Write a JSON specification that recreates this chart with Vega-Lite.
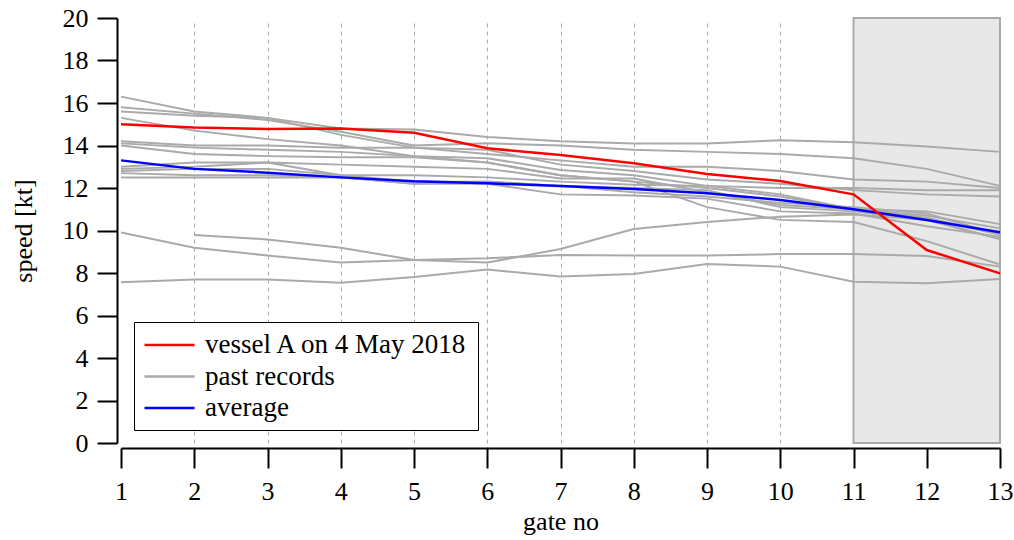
{
  "$schema": "https://vega.github.io/schema/vega-lite/v6.json",
  "width": 879,
  "height": 425,
  "autosize": {"type": "none"},
  "padding": {"left": 121, "top": 18, "right": 14, "bottom": 97},
  "background": "white",
  "config": {
    "view": {"stroke": null},
    "font": "Liberation Serif",
    "axisX": {
      "offset": 5, "tickSize": 20, "tickWidth": 2, "tickColor": "black",
      "domainWidth": 2, "domainColor": "black",
      "labelFont": "Liberation Serif", "labelFontSize": 26, "labelColor": "black", "labelPadding": 10, "labelFlush": false,
      "titleFont": "Liberation Serif", "titleFontSize": 26, "titleFontWeight": "normal", "titleColor": "black", "titlePadding": 4,
      "grid": true, "gridColor": "#aaaaaa", "gridDash": [4, 4], "gridWidth": 1
    },
    "axisY": {
      "offset": 4, "tickSize": 20, "tickWidth": 2, "tickColor": "black",
      "domainWidth": 2, "domainColor": "black",
      "labelFont": "Liberation Serif", "labelFontSize": 26, "labelColor": "black", "labelPadding": 9,
      "titleFont": "Liberation Serif", "titleFontSize": 26, "titleFontWeight": "normal", "titleColor": "black", "titlePadding": 26,
      "grid": false
    },
    "legend": {
      "orient": "none",
      "legendX": 13,
      "legendY": 304,
      "symbolType": "M-1,0H3",
      "symbolSize": 625,
      "symbolStrokeWidth": 2.5,
      "labelFont": "Liberation Serif",
      "labelFontSize": 27,
      "labelColor": "black",
      "labelOffset": 34,
      "labelLimit": 500,
      "strokeColor": "black",
      "fillColor": "white",
      "padding": 9,
      "rowPadding": 4.5
    }
  },
  "datasets": {
    "speeds": [
      {"g":1,"v":15.0,"r":"vessel","s":"vessel A on 4 May 2018"},{"g":2,"v":14.85,"r":"vessel","s":"vessel A on 4 May 2018"},{"g":3,"v":14.78,"r":"vessel","s":"vessel A on 4 May 2018"},{"g":4,"v":14.8,"r":"vessel","s":"vessel A on 4 May 2018"},{"g":5,"v":14.6,"r":"vessel","s":"vessel A on 4 May 2018"},{"g":6,"v":13.87,"r":"vessel","s":"vessel A on 4 May 2018"},{"g":7,"v":13.55,"r":"vessel","s":"vessel A on 4 May 2018"},{"g":8,"v":13.16,"r":"vessel","s":"vessel A on 4 May 2018"},{"g":9,"v":12.66,"r":"vessel","s":"vessel A on 4 May 2018"},{"g":10,"v":12.33,"r":"vessel","s":"vessel A on 4 May 2018"},{"g":11,"v":11.7,"r":"vessel","s":"vessel A on 4 May 2018"},{"g":12,"v":9.08,"r":"vessel","s":"vessel A on 4 May 2018"},{"g":13,"v":7.98,"r":"vessel","s":"vessel A on 4 May 2018"},
      {"g":1,"v":13.3,"r":"avg","s":"average"},{"g":2,"v":12.9,"r":"avg","s":"average"},{"g":3,"v":12.72,"r":"avg","s":"average"},{"g":4,"v":12.5,"r":"avg","s":"average"},{"g":5,"v":12.32,"r":"avg","s":"average"},{"g":6,"v":12.22,"r":"avg","s":"average"},{"g":7,"v":12.09,"r":"avg","s":"average"},{"g":8,"v":11.95,"r":"avg","s":"average"},{"g":9,"v":11.75,"r":"avg","s":"average"},{"g":10,"v":11.44,"r":"avg","s":"average"},{"g":11,"v":11.0,"r":"avg","s":"average"},{"g":12,"v":10.49,"r":"avg","s":"average"},{"g":13,"v":9.92,"r":"avg","s":"average"},
      {"g":1,"v":16.3,"r":"A","s":"past records"},{"g":2,"v":15.6,"r":"A","s":"past records"},{"g":3,"v":15.3,"r":"A","s":"past records"},{"g":4,"v":14.8,"r":"A","s":"past records"},{"g":5,"v":14.75,"r":"A","s":"past records"},{"g":6,"v":14.4,"r":"A","s":"past records"},{"g":7,"v":14.2,"r":"A","s":"past records"},{"g":8,"v":14.1,"r":"A","s":"past records"},{"g":9,"v":14.1,"r":"A","s":"past records"},{"g":10,"v":14.25,"r":"A","s":"past records"},{"g":11,"v":14.15,"r":"A","s":"past records"},{"g":12,"v":13.95,"r":"A","s":"past records"},{"g":13,"v":13.7,"r":"A","s":"past records"},
      {"g":1,"v":15.8,"r":"B","s":"past records"},{"g":2,"v":15.5,"r":"B","s":"past records"},{"g":3,"v":15.2,"r":"B","s":"past records"},{"g":4,"v":14.65,"r":"B","s":"past records"},{"g":5,"v":14.0,"r":"B","s":"past records"},{"g":6,"v":14.1,"r":"B","s":"past records"},{"g":7,"v":14.0,"r":"B","s":"past records"},{"g":8,"v":13.8,"r":"B","s":"past records"},{"g":9,"v":13.7,"r":"B","s":"past records"},{"g":10,"v":13.6,"r":"B","s":"past records"},{"g":11,"v":13.4,"r":"B","s":"past records"},{"g":12,"v":12.9,"r":"B","s":"past records"},{"g":13,"v":12.1,"r":"B","s":"past records"},
      {"g":1,"v":15.6,"r":"C","s":"past records"},{"g":2,"v":15.4,"r":"C","s":"past records"},{"g":3,"v":15.3,"r":"C","s":"past records"},{"g":4,"v":14.5,"r":"C","s":"past records"},{"g":5,"v":13.9,"r":"C","s":"past records"},{"g":6,"v":13.6,"r":"C","s":"past records"},{"g":7,"v":13.3,"r":"C","s":"past records"},{"g":8,"v":13.0,"r":"C","s":"past records"},{"g":9,"v":13.0,"r":"C","s":"past records"},{"g":10,"v":12.8,"r":"C","s":"past records"},{"g":11,"v":12.4,"r":"C","s":"past records"},{"g":12,"v":12.3,"r":"C","s":"past records"},{"g":13,"v":12.0,"r":"C","s":"past records"},
      {"g":1,"v":15.3,"r":"D","s":"past records"},{"g":2,"v":14.7,"r":"D","s":"past records"},{"g":3,"v":14.3,"r":"D","s":"past records"},{"g":4,"v":14.0,"r":"D","s":"past records"},{"g":5,"v":13.5,"r":"D","s":"past records"},{"g":6,"v":13.2,"r":"D","s":"past records"},{"g":7,"v":12.6,"r":"D","s":"past records"},{"g":8,"v":12.3,"r":"D","s":"past records"},{"g":9,"v":11.1,"r":"D","s":"past records"},{"g":10,"v":10.5,"r":"D","s":"past records"},{"g":11,"v":10.4,"r":"D","s":"past records"},{"g":12,"v":9.5,"r":"D","s":"past records"},{"g":13,"v":8.4,"r":"D","s":"past records"},
      {"g":1,"v":14.2,"r":"E","s":"past records"},{"g":2,"v":14.0,"r":"E","s":"past records"},{"g":3,"v":14.0,"r":"E","s":"past records"},{"g":4,"v":13.9,"r":"E","s":"past records"},{"g":5,"v":13.9,"r":"E","s":"past records"},{"g":6,"v":13.8,"r":"E","s":"past records"},{"g":7,"v":13.1,"r":"E","s":"past records"},{"g":8,"v":12.8,"r":"E","s":"past records"},{"g":9,"v":12.4,"r":"E","s":"past records"},{"g":10,"v":12.2,"r":"E","s":"past records"},{"g":11,"v":11.9,"r":"E","s":"past records"},{"g":12,"v":11.7,"r":"E","s":"past records"},{"g":13,"v":11.6,"r":"E","s":"past records"},
      {"g":1,"v":14.1,"r":"F","s":"past records"},{"g":2,"v":13.9,"r":"F","s":"past records"},{"g":3,"v":13.8,"r":"F","s":"past records"},{"g":4,"v":13.7,"r":"F","s":"past records"},{"g":5,"v":13.5,"r":"F","s":"past records"},{"g":6,"v":13.4,"r":"F","s":"past records"},{"g":7,"v":12.85,"r":"F","s":"past records"},{"g":8,"v":12.6,"r":"F","s":"past records"},{"g":9,"v":12.1,"r":"F","s":"past records"},{"g":10,"v":11.7,"r":"F","s":"past records"},{"g":11,"v":11.0,"r":"F","s":"past records"},{"g":12,"v":10.9,"r":"F","s":"past records"},{"g":13,"v":10.3,"r":"F","s":"past records"},
      {"g":1,"v":14.0,"r":"G","s":"past records"},{"g":2,"v":13.6,"r":"G","s":"past records"},{"g":3,"v":13.5,"r":"G","s":"past records"},{"g":4,"v":13.45,"r":"G","s":"past records"},{"g":5,"v":13.45,"r":"G","s":"past records"},{"g":6,"v":13.2,"r":"G","s":"past records"},{"g":7,"v":12.6,"r":"G","s":"past records"},{"g":8,"v":12.3,"r":"G","s":"past records"},{"g":9,"v":12.0,"r":"G","s":"past records"},{"g":10,"v":11.6,"r":"G","s":"past records"},{"g":11,"v":11.0,"r":"G","s":"past records"},{"g":12,"v":10.6,"r":"G","s":"past records"},{"g":13,"v":9.8,"r":"G","s":"past records"},
      {"g":1,"v":13.0,"r":"H","s":"past records"},{"g":2,"v":13.2,"r":"H","s":"past records"},{"g":3,"v":13.2,"r":"H","s":"past records"},{"g":4,"v":13.1,"r":"H","s":"past records"},{"g":5,"v":13.0,"r":"H","s":"past records"},{"g":6,"v":12.9,"r":"H","s":"past records"},{"g":7,"v":12.45,"r":"H","s":"past records"},{"g":8,"v":12.45,"r":"H","s":"past records"},{"g":9,"v":11.8,"r":"H","s":"past records"},{"g":10,"v":11.2,"r":"H","s":"past records"},{"g":11,"v":11.0,"r":"H","s":"past records"},{"g":12,"v":10.7,"r":"H","s":"past records"},{"g":13,"v":10.1,"r":"H","s":"past records"},
      {"g":1,"v":12.9,"r":"I","s":"past records"},{"g":2,"v":13.0,"r":"I","s":"past records"},{"g":3,"v":13.2,"r":"I","s":"past records"},{"g":4,"v":12.6,"r":"I","s":"past records"},{"g":5,"v":12.6,"r":"I","s":"past records"},{"g":6,"v":12.5,"r":"I","s":"past records"},{"g":7,"v":12.3,"r":"I","s":"past records"},{"g":8,"v":12.15,"r":"I","s":"past records"},{"g":9,"v":12.1,"r":"I","s":"past records"},{"g":10,"v":12.0,"r":"I","s":"past records"},{"g":11,"v":12.0,"r":"I","s":"past records"},{"g":12,"v":11.9,"r":"I","s":"past records"},{"g":13,"v":11.9,"r":"I","s":"past records"},
      {"g":1,"v":12.8,"r":"J","s":"past records"},{"g":2,"v":12.9,"r":"J","s":"past records"},{"g":3,"v":12.9,"r":"J","s":"past records"},{"g":4,"v":12.6,"r":"J","s":"past records"},{"g":5,"v":12.3,"r":"J","s":"past records"},{"g":6,"v":12.3,"r":"J","s":"past records"},{"g":7,"v":12.1,"r":"J","s":"past records"},{"g":8,"v":11.8,"r":"J","s":"past records"},{"g":9,"v":11.6,"r":"J","s":"past records"},{"g":10,"v":11.3,"r":"J","s":"past records"},{"g":11,"v":11.1,"r":"J","s":"past records"},{"g":12,"v":10.8,"r":"J","s":"past records"},{"g":13,"v":9.8,"r":"J","s":"past records"},
      {"g":1,"v":12.7,"r":"K","s":"past records"},{"g":2,"v":12.6,"r":"K","s":"past records"},{"g":3,"v":12.6,"r":"K","s":"past records"},{"g":4,"v":12.5,"r":"K","s":"past records"},{"g":5,"v":12.2,"r":"K","s":"past records"},{"g":6,"v":12.3,"r":"K","s":"past records"},{"g":7,"v":12.1,"r":"K","s":"past records"},{"g":8,"v":12.0,"r":"K","s":"past records"},{"g":9,"v":11.9,"r":"K","s":"past records"},{"g":10,"v":11.1,"r":"K","s":"past records"},{"g":11,"v":10.9,"r":"K","s":"past records"},{"g":12,"v":10.5,"r":"K","s":"past records"},{"g":13,"v":9.6,"r":"K","s":"past records"},
      {"g":1,"v":12.5,"r":"L","s":"past records"},{"g":2,"v":12.5,"r":"L","s":"past records"},{"g":3,"v":12.5,"r":"L","s":"past records"},{"g":4,"v":12.5,"r":"L","s":"past records"},{"g":5,"v":12.2,"r":"L","s":"past records"},{"g":6,"v":12.2,"r":"L","s":"past records"},{"g":7,"v":11.7,"r":"L","s":"past records"},{"g":8,"v":11.65,"r":"L","s":"past records"},{"g":9,"v":11.5,"r":"L","s":"past records"},{"g":10,"v":10.9,"r":"L","s":"past records"},{"g":11,"v":10.8,"r":"L","s":"past records"},{"g":12,"v":10.2,"r":"L","s":"past records"},{"g":13,"v":9.7,"r":"L","s":"past records"},
      {"g":1,"v":9.91,"r":"L1","s":"past records"},{"g":2,"v":9.19,"r":"L1","s":"past records"},{"g":3,"v":8.82,"r":"L1","s":"past records"},{"g":4,"v":8.49,"r":"L1","s":"past records"},{"g":5,"v":8.61,"r":"L1","s":"past records"},{"g":6,"v":8.69,"r":"L1","s":"past records"},{"g":7,"v":8.85,"r":"L1","s":"past records"},{"g":8,"v":8.82,"r":"L1","s":"past records"},{"g":9,"v":8.82,"r":"L1","s":"past records"},{"g":10,"v":8.89,"r":"L1","s":"past records"},{"g":11,"v":8.89,"r":"L1","s":"past records"},{"g":12,"v":8.8,"r":"L1","s":"past records"},{"g":13,"v":8.3,"r":"L1","s":"past records"},
      {"g":2,"v":9.79,"r":"L2","s":"past records"},{"g":3,"v":9.58,"r":"L2","s":"past records"},{"g":4,"v":9.19,"r":"L2","s":"past records"},{"g":5,"v":8.61,"r":"L2","s":"past records"},{"g":6,"v":8.49,"r":"L2","s":"past records"},{"g":7,"v":9.13,"r":"L2","s":"past records"},{"g":8,"v":10.07,"r":"L2","s":"past records"},{"g":9,"v":10.4,"r":"L2","s":"past records"},{"g":10,"v":10.65,"r":"L2","s":"past records"},{"g":11,"v":10.75,"r":"L2","s":"past records"},{"g":12,"v":10.5,"r":"L2","s":"past records"},{"g":13,"v":9.6,"r":"L2","s":"past records"},
      {"g":1,"v":7.56,"r":"L3","s":"past records"},{"g":2,"v":7.69,"r":"L3","s":"past records"},{"g":3,"v":7.69,"r":"L3","s":"past records"},{"g":4,"v":7.54,"r":"L3","s":"past records"},{"g":5,"v":7.81,"r":"L3","s":"past records"},{"g":6,"v":8.17,"r":"L3","s":"past records"},{"g":7,"v":7.83,"r":"L3","s":"past records"},{"g":8,"v":7.95,"r":"L3","s":"past records"},{"g":9,"v":8.42,"r":"L3","s":"past records"},{"g":10,"v":8.3,"r":"L3","s":"past records"},{"g":11,"v":7.59,"r":"L3","s":"past records"},{"g":12,"v":7.52,"r":"L3","s":"past records"},{"g":13,"v":7.72,"r":"L3","s":"past records"}
    ]
  },
  "layer": [
    {
      "data": {"values": [{"from": 11, "to": 13}]},
      "mark": {"type": "rect", "fill": "#e8e8e8", "stroke": "#aaaaaa", "strokeWidth": 2},
      "encoding": {
        "x": {"field": "from", "type": "quantitative",
          "scale": {"domain": [1, 13], "nice": false, "zero": false},
          "axis": {"title": "gate no", "values": [1,2,3,4,5,6,7,8,9,10,11,12,13], "format": "d",
            "gridOpacity": {"condition": {"test": "datum.value === 1", "value": 0}, "value": 1}}},
        "x2": {"field": "to"},
        "y": {"datum": 0, "type": "quantitative",
          "scale": {"domain": [0, 20], "nice": false},
          "axis": {"title": "speed [kt]", "values": [0,2,4,6,8,10,12,14,16,18,20]}},
        "y2": {"datum": 20}
      }
    },
    {
      "data": {"name": "speeds"},
      "transform": [{"filter": "datum.s === 'past records'"}],
      "mark": {"type": "line", "strokeWidth": 2},
      "encoding": {
        "x": {"field": "g", "type": "quantitative", "axis": {"title": "gate no", "values": [1,2,3,4,5,6,7,8,9,10,11,12,13], "format": "d",
            "gridOpacity": {"condition": {"test": "datum.value === 1", "value": 0}, "value": 1}}},
        "y": {"field": "v", "type": "quantitative", "axis": {"title": "speed [kt]", "values": [0,2,4,6,8,10,12,14,16,18,20]}},
        "detail": {"field": "r"},
        "color": {"field": "s", "type": "nominal", "title": null,
          "scale": {"domain": ["vessel A on 4 May 2018", "past records", "average"], "range": ["#ff0000", "#aaaaaa", "#0000ff"]}}
      }
    },
    {
      "data": {"name": "speeds"},
      "transform": [{"filter": "datum.s === 'average'"}],
      "mark": {"type": "line", "strokeWidth": 2.5},
      "encoding": {
        "x": {"field": "g", "type": "quantitative", "axis": {"title": "gate no", "values": [1,2,3,4,5,6,7,8,9,10,11,12,13], "format": "d",
            "gridOpacity": {"condition": {"test": "datum.value === 1", "value": 0}, "value": 1}}},
        "y": {"field": "v", "type": "quantitative", "axis": {"title": "speed [kt]", "values": [0,2,4,6,8,10,12,14,16,18,20]}},
        "color": {"field": "s", "type": "nominal", "title": null,
          "scale": {"domain": ["vessel A on 4 May 2018", "past records", "average"], "range": ["#ff0000", "#aaaaaa", "#0000ff"]}}
      }
    },
    {
      "data": {"name": "speeds"},
      "transform": [{"filter": "datum.s === 'vessel A on 4 May 2018'"}],
      "mark": {"type": "line", "strokeWidth": 2.5},
      "encoding": {
        "x": {"field": "g", "type": "quantitative", "axis": {"title": "gate no", "values": [1,2,3,4,5,6,7,8,9,10,11,12,13], "format": "d",
            "gridOpacity": {"condition": {"test": "datum.value === 1", "value": 0}, "value": 1}}},
        "y": {"field": "v", "type": "quantitative", "axis": {"title": "speed [kt]", "values": [0,2,4,6,8,10,12,14,16,18,20]}},
        "color": {"field": "s", "type": "nominal", "title": null,
          "scale": {"domain": ["vessel A on 4 May 2018", "past records", "average"], "range": ["#ff0000", "#aaaaaa", "#0000ff"]}}
      }
    }
  ]
}
